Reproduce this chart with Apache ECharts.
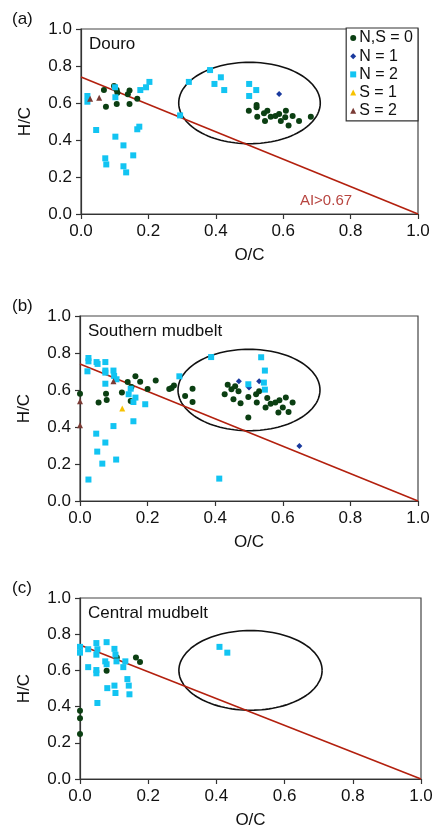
<!DOCTYPE html>
<html><head><meta charset="utf-8">
<script src="https://cdn.jsdelivr.net/npm/echarts@6/dist/echarts.min.js"></script>
<style>html,body{margin:0;padding:0;background:#fff}#c{width:436px;height:830px}</style>
</head><body><div id="c"></div>
<script>
// ---- data ----
const panelLabels = ['(a)', '(b)', '(c)'];
const panelTitles = ['Douro', 'Southern mudbelt', 'Central mudbelt'];
const seriesNames = ['N,S = 0', 'N = 1', 'N = 2', 'S = 1', 'S = 2'];
const tickValues = [0, 0.2, 0.4, 0.6, 0.8, 1.0];

const aNS0 = [[0.068,0.670],[0.074,0.58],[0.098,0.692],[0.106,0.67],[0.108,0.656],[0.106,0.595],[0.139,0.647],[0.144,0.668],[0.144,0.595],[0.167,0.623],[0.498,0.558],[0.521,0.577],[0.521,0.589],[0.523,0.526],[0.543,0.544],[0.553,0.558],[0.546,0.503],[0.563,0.526],[0.577,0.53],[0.588,0.54],[0.606,0.523],[0.593,0.503],[0.608,0.558],[0.616,0.479],[0.628,0.53],[0.647,0.503],[0.682,0.526]];
const aN1 = [[0.588,0.649]];
const aN2 = [[0.019,0.638],[0.019,0.607],[0.045,0.454],[0.101,0.685],[0.102,0.631],[0.102,0.418],[0.167,0.458],[0.173,0.472],[0.176,0.67],[0.193,0.685],[0.203,0.714],[0.294,0.533],[0.32,0.714],[0.383,0.778],[0.396,0.703],[0.415,0.739],[0.425,0.67],[0.499,0.703],[0.499,0.638],[0.52,0.67],[0.126,0.371],[0.072,0.301],[0.075,0.268],[0.155,0.317],[0.126,0.258],[0.134,0.225]];
const aS1 = [];
const aS2 = [[0.027,0.623],[0.054,0.629]];

const bNS0 = [[0.0,0.58],[0.055,0.532],[0.077,0.58],[0.079,0.546],[0.124,0.586],[0.141,0.643],[0.15,0.541],[0.152,0.616],[0.164,0.674],[0.178,0.645],[0.2,0.605],[0.224,0.651],[0.264,0.605],[0.271,0.611],[0.278,0.625],[0.311,0.568],[0.333,0.607],[0.333,0.535],[0.428,0.577],[0.437,0.629],[0.448,0.604],[0.454,0.55],[0.459,0.62],[0.469,0.593],[0.475,0.528],[0.498,0.562],[0.498,0.451],[0.521,0.577],[0.53,0.593],[0.523,0.532],[0.549,0.505],[0.554,0.557],[0.564,0.526],[0.578,0.532],[0.59,0.544],[0.609,0.559],[0.587,0.478],[0.6,0.505],[0.617,0.481],[0.629,0.532]];
const bN1 = [[0.47,0.647],[0.5,0.613],[0.53,0.647],[0.649,0.297]];
const bN2 = [[0.025,0.773],[0.025,0.755],[0.022,0.701],[0.049,0.751],[0.052,0.741],[0.075,0.751],[0.075,0.705],[0.075,0.694],[0.099,0.705],[0.101,0.676],[0.108,0.658],[0.075,0.634],[0.144,0.577],[0.15,0.607],[0.164,0.559],[0.158,0.535],[0.193,0.523],[0.158,0.431],[0.099,0.405],[0.294,0.674],[0.388,0.778],[0.498,0.631],[0.536,0.777],[0.547,0.705],[0.544,0.64],[0.547,0.602],[0.048,0.364],[0.075,0.316],[0.051,0.267],[0.066,0.202],[0.107,0.224],[0.025,0.116],[0.412,0.121]];
const bS1 = [[0.125,0.5]];
const bS2 = [[0.0,0.539],[0.099,0.647],[0.0,0.41]];

const cNS0 = [[0.108,0.671],[0.164,0.671],[0.176,0.646],[0.078,0.598],[0,0.377],[0,0.335],[0,0.249]];
const cN1 = [];
const cN2 = [[0,0.73],[0,0.698],[0.024,0.717],[0.048,0.751],[0.051,0.717],[0.048,0.687],[0.078,0.756],[0.101,0.719],[0.104,0.687],[0.074,0.65],[0.078,0.634],[0.107,0.65],[0.133,0.65],[0.127,0.618],[0.024,0.618],[0.048,0.602],[0.048,0.584],[0.139,0.552],[0.08,0.502],[0.101,0.516],[0.143,0.516],[0.409,0.73],[0.432,0.698],[0.104,0.475],[0.145,0.468],[0.051,0.42]];
const cS1 = [];
const cS2 = [];

// AI > 0.67 boundary line (O/C, H/C) and ellipse (center, radii)
const aiLine = [[0, 0.74], [1.0, 0]];
const aiLabel = 'AI>0.67';
const aiLabelPos = [0.727, 0.072];
const ellipseCenter = [0.5, 0.6];
const ellipseRadii = [0.21, 0.22];

// ---- build ----
const panelData = [[aNS0,aN1,aN2,aS1,aS2],[bNS0,bN1,bN2,bS1,bS2],[cNS0,cN1,cN2,cS1,cS2]];
const symbols = ['circle','diamond','rect','triangle','triangle'];
const sizes = [6,6,6,6,6];
const colors = ['#0b3f12','#1a3a9e','#12c4f2','#f7c200','#7a3b35'];
const grids = [
  {left:81, top:29, width:337, height:185},
  {left:80, top:316, width:338, height:185},
  {left:80, top:598, width:341, height:187}
];
const FONT = 'Liberation Sans, Arial, sans-serif';

const ellipsePts = [];
for (let i = 0; i <= 120; i++) {
  const t = i / 120 * 2 * Math.PI;
  ellipsePts.push([ellipseCenter[0] + ellipseRadii[0]*Math.cos(t), ellipseCenter[1] + ellipseRadii[1]*Math.sin(t)]);
}

const axisCommon = {
  min: 0, max: 1, interval: 0.2,
  axisLine: {show:true, lineStyle:{color:'#333', width:1.2}},
  axisTick: {show:true, inside:false, length:5, lineStyle:{color:'#333', width:1.2}},
  splitLine: {show:false},
  nameLocation: 'middle',
  nameTextStyle: {fontSize:17, color:'#111', fontFamily:FONT},
  axisLabel: {fontSize:17, color:'#111', fontFamily:FONT, margin:9, formatter: v => v.toFixed(1)}
};

const xAxis = [], yAxis = [], series = [], graphic = [];
grids.forEach((g, i) => {
  xAxis.push(Object.assign({}, axisCommon, {type:'value', gridIndex:i, name:'O/C', nameGap:33}));
  yAxis.push(Object.assign({}, axisCommon, {type:'value', gridIndex:i, name:'H/C', nameGap:47}));
  series.push({type:'line', xAxisIndex:i, yAxisIndex:i, data:ellipsePts, symbol:'none', silent:true, z:1,
    lineStyle:{color:'#111', width:1.6}});
  series.push({type:'line', xAxisIndex:i, yAxisIndex:i, data:aiLine, symbol:'none', silent:true, z:1,
    lineStyle:{color:'#b3200e', width:1.6}});
  if (i === 0) {
    series.push({type:'scatter', xAxisIndex:i, yAxisIndex:i, data:[aiLabelPos], symbolSize:1, z:3, silent:true,
      itemStyle:{color:'rgba(0,0,0,0)'},
      label:{show:true, position:'inside', formatter:aiLabel, fontSize:15, color:'#a5150f', fontFamily:FONT}});
  }
  panelData[i].forEach((d, k) => {
    series.push({type:'scatter', name:seriesNames[k], xAxisIndex:i, yAxisIndex:i, data:d,
      symbol:symbols[k], symbolSize:sizes[k], itemStyle:{color:colors[k], opacity:1}, z:5});
  });
  graphic.push({type:'text', left:12, top:g.top - 18, style:{text:panelLabels[i], fontSize:17, fill:'#111', fontFamily:FONT}});
  graphic.push({type:'text', left:g.left + 8, top:g.top + 7, style:{text:panelTitles[i], fontSize:17, fill:'#111', fontFamily:FONT}});
});

const chart = echarts.init(document.getElementById('c'));
chart.setOption({
  animation:false,
  grid: grids.map(g => Object.assign({show:true, borderColor:'#444', borderWidth:1.2, backgroundColor:'transparent'}, g)),
  xAxis, yAxis, series, graphic,
  legend: {
    orient:'vertical', right:18, top:28, padding:[2,5,2,4], itemGap:2.2,
    itemWidth:6, itemHeight:6, borderColor:'#333', borderWidth:1.2, backgroundColor:'#fff',
    selectedMode:false,
    textStyle:{fontSize:16, color:'#111', fontFamily:FONT, padding:[0,0,0,-2]},
    data: seriesNames.map((n,k) => ({name:n, icon:symbols[k]}))
  }
});
</script></body></html>
